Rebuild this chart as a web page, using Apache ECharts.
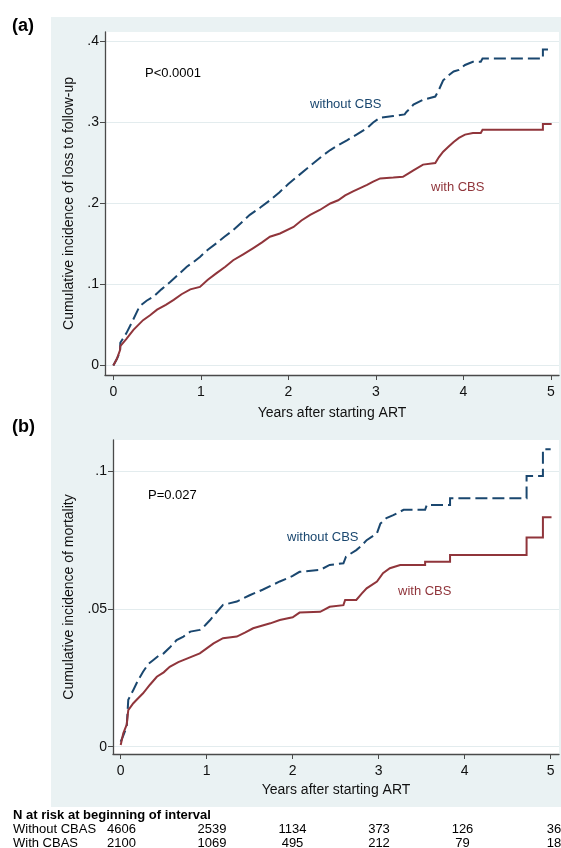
<!DOCTYPE html>
<html>
<head>
<meta charset="utf-8">
<script src="https://cdn.jsdelivr.net/npm/echarts@6/dist/echarts.min.js"></script>
<style>
html,body{margin:0;padding:0;background:#fff;}
#chart{width:561px;height:848px;}
</style>
</head>
<body>
<div id="chart"></div>
<script>
// ---- Data ----
const xTicks = [0, 1, 2, 3, 4, 5];
const yTicksA = [0, 0.1, 0.2, 0.3, 0.4];
const yTicksB = [0, 0.05, 0.1];

// Panel (a): cumulative incidence of loss to follow-up  [years, value]
const lossWithout = [[0,0],[0.04,0.008],[0.077,0.017],[0.08,0.028],[0.15,0.040],[0.22,0.055],[0.30,0.073],[0.38,0.080],[0.46,0.085],[0.55,0.094],[0.65,0.103],[0.75,0.113],[0.84,0.122],[0.92,0.128],[0.99,0.134],[1.08,0.143],[1.18,0.151],[1.27,0.159],[1.37,0.167],[1.46,0.176],[1.56,0.186],[1.68,0.195],[1.79,0.204],[1.9,0.214],[2.0,0.224],[2.1,0.233],[2.2,0.242],[2.29,0.250],[2.38,0.258],[2.48,0.266],[2.57,0.272],[2.67,0.278],[2.78,0.285],[2.90,0.293],[2.97,0.300],[3.05,0.306],[3.2,0.308],[3.33,0.310],[3.35,0.313],[3.40,0.318],[3.43,0.322],[3.54,0.328],[3.68,0.332],[3.72,0.340],[3.77,0.352],[3.83,0.358],[3.89,0.363],[3.95,0.365],[4.02,0.371],[4.11,0.375],[4.2,0.375],[4.22,0.379],[4.91,0.379],[4.91,0.390],[4.99,0.390]];
const lossWith = [[0,0],[0.04,0.008],[0.077,0.019],[0.08,0.024],[0.15,0.033],[0.23,0.044],[0.34,0.056],[0.42,0.062],[0.50,0.069],[0.60,0.075],[0.69,0.081],[0.78,0.088],[0.88,0.094],[0.99,0.097],[1.08,0.106],[1.18,0.114],[1.28,0.122],[1.37,0.130],[1.48,0.137],[1.60,0.145],[1.70,0.152],[1.79,0.159],[1.905,0.163],[2.06,0.171],[2.15,0.179],[2.25,0.186],[2.36,0.192],[2.48,0.200],[2.57,0.204],[2.65,0.210],[2.74,0.215],[2.82,0.219],[2.90,0.223],[2.97,0.227],[3.05,0.231],[3.2,0.232],[3.31,0.233],[3.37,0.237],[3.43,0.241],[3.54,0.248],[3.68,0.250],[3.72,0.257],[3.77,0.264],[3.83,0.270],[3.89,0.276],[3.95,0.281],[4.02,0.285],[4.11,0.287],[4.2,0.287],[4.22,0.291],[4.91,0.291],[4.91,0.298],[5.01,0.298]];

// Panel (b): cumulative incidence of mortality  [years, value]
const mortWithout = [[0,0.0018],[0.03,0.004],[0.07,0.0073],[0.088,0.017],[0.147,0.0206],[0.2,0.024],[0.26,0.0272],[0.32,0.030],[0.38,0.0315],[0.44,0.033],[0.50,0.0339],[0.57,0.036],[0.65,0.0387],[0.73,0.040],[0.81,0.0418],[0.92,0.0424],[0.98,0.044],[1.04,0.046],[1.12,0.049],[1.19,0.0515],[1.35,0.0527],[1.5,0.055],[1.65,0.057],[1.85,0.060],[2.0,0.062],[2.08,0.0635],[2.32,0.0642],[2.43,0.066],[2.59,0.0666],[2.62,0.069],[2.74,0.0714],[2.8,0.073],[2.86,0.075],[2.98,0.0775],[3.02,0.081],[3.09,0.083],[3.17,0.0841],[3.29,0.086],[3.54,0.086],[3.56,0.0878],[3.83,0.0878],[3.83,0.0902],[4.72,0.0902],[4.72,0.0983],[4.91,0.0983],[4.91,0.108],[5.0,0.108]];
const mortWith = [[0,0.0006],[0.03,0.0049],[0.07,0.008],[0.088,0.0133],[0.147,0.0158],[0.2,0.0175],[0.26,0.0194],[0.34,0.0225],[0.42,0.0254],[0.50,0.027],[0.57,0.029],[0.67,0.0307],[0.77,0.032],[0.92,0.0339],[1.0,0.0357],[1.08,0.0375],[1.19,0.0394],[1.35,0.040],[1.45,0.0415],[1.54,0.043],[1.74,0.0448],[1.85,0.046],[2.0,0.047],[2.08,0.0487],[2.32,0.049],[2.43,0.0508],[2.59,0.0514],[2.61,0.0533],[2.74,0.0533],[2.8,0.0555],[2.86,0.0575],[2.98,0.060],[3.05,0.063],[3.13,0.0648],[3.25,0.066],[3.54,0.066],[3.54,0.0672],[3.83,0.0672],[3.83,0.0696],[4.72,0.0696],[4.72,0.076],[4.91,0.076],[4.91,0.0833],[5.01,0.0833]];

// N at risk table
const riskRowLabels = ['Without CBAS', 'With CBAS'];
const riskWithout = [4606, 2539, 1134, 373, 126, 36];
const riskWith = [2100, 1069, 495, 212, 79, 18];

// ---- Styling ----
const FONT = '"Liberation Sans", Arial, sans-serif';
const NAVY = '#1a476f';
const MAROON = '#90353b';
const BG = '#eaf2f3';
const AXIS = '#4a4a4a';

const chart = echarts.init(document.getElementById('chart'), null, {renderer: 'canvas'});

function yFmt(v) {
  if (v === 0) return '0';
  return String(v).replace(/^0/, '');
}

function xAxisCfg(gridIndex, min, max, gap) {
  return {
    type: 'value', gridIndex, min, max,
    name: 'Years after starting ART', nameLocation: 'middle', nameGap: gap,
    nameTextStyle: {fontFamily: FONT, fontSize: 14, color: '#111'},
    axisLine: {show: true, onZero: false, lineStyle: {color: AXIS, width: 1.3}},
    axisTick: {show: true, length: 5, customValues: xTicks, lineStyle: {color: AXIS}},
    axisLabel: {customValues: xTicks, margin: 10, fontFamily: FONT, fontSize: 14, color: '#111'},
    splitLine: {show: false}
  };
}
function yAxisCfg(gridIndex, min, max, ticks, name, gap) {
  return {
    type: 'value', gridIndex, min, max,
    name, nameLocation: 'middle', nameRotate: 90, nameGap: gap,
    nameTextStyle: {fontFamily: FONT, fontSize: 14, color: '#111'},
    axisLine: {show: true, onZero: false, lineStyle: {color: AXIS, width: 1.3}},
    axisTick: {show: true, length: 5, customValues: ticks, lineStyle: {color: AXIS}},
    axisLabel: {customValues: ticks, margin: 6, fontFamily: FONT, fontSize: 14, color: '#111', formatter: yFmt},
    splitLine: {show: true, lineStyle: {color: '#e3ecee', width: 1.2}}
  };
}

const numX = [121.5, 212, 292.5, 379, 462.5, 554];

const graphics = [
  {type: 'rect', z: -10, silent: true, shape: {x: 51, y: 17, width: 510, height: 790}, style: {fill: BG}},
  {type: 'text', x: 12, y: 26, style: {text: '(a)', font: 'bold 18px ' + FONT, fill: '#000', verticalAlign: 'middle'}},
  {type: 'text', x: 12, y: 427, style: {text: '(b)', font: 'bold 18px ' + FONT, fill: '#000', verticalAlign: 'middle'}},
  {type: 'text', x: 145, y: 73, z: 10, style: {text: 'P<0.0001', font: '13px ' + FONT, fill: '#000', verticalAlign: 'middle'}},
  {type: 'text', x: 310, y: 104, z: 10, style: {text: 'without CBS', font: '13px ' + FONT, fill: NAVY, verticalAlign: 'middle'}},
  {type: 'text', x: 431, y: 187, z: 10, style: {text: 'with CBS', font: '13px ' + FONT, fill: MAROON, verticalAlign: 'middle'}},
  {type: 'text', x: 148, y: 495, z: 10, style: {text: 'P=0.027', font: '13px ' + FONT, fill: '#000', verticalAlign: 'middle'}},
  {type: 'text', x: 287, y: 537, z: 10, style: {text: 'without CBS', font: '13px ' + FONT, fill: NAVY, verticalAlign: 'middle'}},
  {type: 'text', x: 398, y: 591, z: 10, style: {text: 'with CBS', font: '13px ' + FONT, fill: MAROON, verticalAlign: 'middle'}},
  {type: 'text', x: 13, y: 815, style: {text: 'N at risk at beginning of interval', font: 'bold 13px ' + FONT, fill: '#000', verticalAlign: 'middle'}},
  {type: 'text', x: 13, y: 829, style: {text: riskRowLabels[0], font: '13px ' + FONT, fill: '#000', verticalAlign: 'middle'}},
  {type: 'text', x: 13, y: 843, style: {text: riskRowLabels[1], font: '13px ' + FONT, fill: '#000', verticalAlign: 'middle'}}
];
riskWithout.forEach((n, i) => graphics.push({type: 'text', x: numX[i], y: 829, style: {text: String(n), font: '13px ' + FONT, fill: '#000', align: 'center', verticalAlign: 'middle'}}));
riskWith.forEach((n, i) => graphics.push({type: 'text', x: numX[i], y: 843, style: {text: String(n), font: '13px ' + FONT, fill: '#000', align: 'center', verticalAlign: 'middle'}}));

function lineSeries(xi, yi, data, color, dashed) {
  return {
    type: 'line', xAxisIndex: xi, yAxisIndex: yi, data, showSymbol: false, symbol: 'none',
    animation: false, clip: true,
    lineStyle: {color, width: 2, type: dashed ? [12, 5] : 'solid', cap: 'butt', join: 'miter'}
  };
}

chart.setOption({
  animation: false,
  backgroundColor: '#fff',
  grid: [
    {left: 105, top: 32, width: 454, height: 343, show: true, backgroundColor: '#fff', borderWidth: 0, containLabel: false},
    {left: 113, top: 440, width: 446, height: 314, show: true, backgroundColor: '#fff', borderWidth: 0, containLabel: false}
  ],
  xAxis: [
    xAxisCfg(0, -0.095, 5.094, 31),
    xAxisCfg(1, -0.0895, 5.097, 29)
  ],
  yAxis: [
    yAxisCfg(0, -0.0117, 0.4117, yTicksA, 'Cumulative incidence of loss to follow-up', 24.5),
    yAxisCfg(1, -0.00265, 0.11137, yTicksB, 'Cumulative incidence of mortality', 32)
  ],
  series: [
    lineSeries(0, 0, lossWithout, NAVY, true),
    lineSeries(0, 0, lossWith, MAROON, false),
    lineSeries(1, 1, mortWithout, NAVY, true),
    lineSeries(1, 1, mortWith, MAROON, false)
  ],
  graphic: graphics
});
</script>
</body>
</html>
